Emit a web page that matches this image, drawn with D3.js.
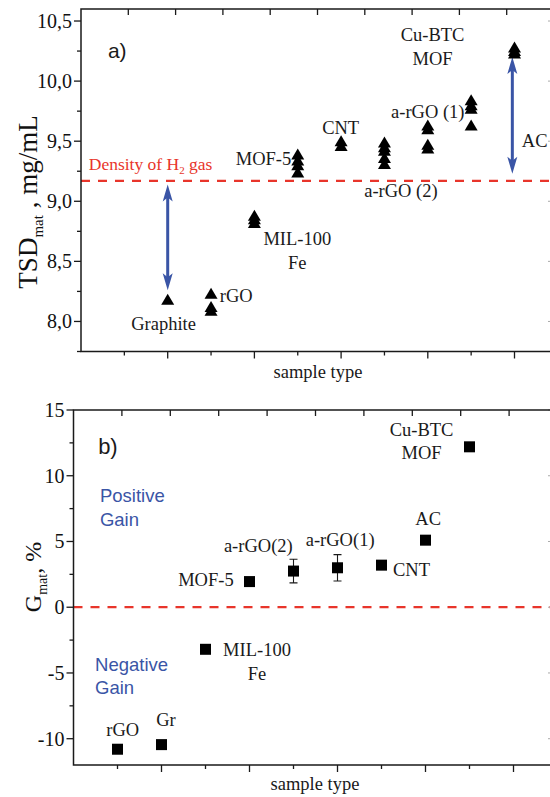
<!DOCTYPE html>
<html>
<head>
<meta charset="utf-8">
<script src="https://cdn.jsdelivr.net/npm/d3@7"></script>
<style>
  body { margin: 0; background: #fff; }
  svg { display: block; }
  text { font-family: "Liberation Serif", "Times New Roman", serif; fill: #111; }
  .sans { font-family: "Liberation Sans", Arial, sans-serif; }
</style>
</head>
<body>
<svg id="chart" width="550" height="797"></svg>
<script>
// ---- panel a) data : TSD_mat per sample, several measurements each
var tsdCategories = ["Graphite", "rGO", "MIL-100 Fe", "MOF-5", "CNT", "a-rGO (2)", "a-rGO (1)", "Cu-BTC MOF", "AC"];
var tsdSlots = [2, 3, 4, 5, 6, 7, 8, 9, 10];
var tsdValues = [
  [8.18],
  [8.23, 8.12, 8.09],
  [8.88, 8.85, 8.82],
  [9.39, 9.34, 9.30, 9.24],
  [9.50, 9.46],
  [9.49, 9.45, 9.42, 9.36, 9.31],
  [9.63, 9.60, 9.47, 9.44],
  [9.84, 9.80, 9.77, 9.63],
  [10.28, 10.25, 10.23]
];
var h2Density = 9.17;
var tsdTicks = [8.0, 8.5, 9.0, 9.5, 10.0, 10.5];
// the two blue gap arrows (slot, upper end, lower end)
var arrowSlots = [2, 9.95];
var arrowTop = [9.14, 10.2];
var arrowBottom = [8.26, 9.23];

// ---- panel b) data : gain G_mat in %
var gainCategories = ["rGO", "Gr", "MIL-100 Fe", "MOF-5", "a-rGO(2)", "a-rGO(1)", "CNT", "AC", "Cu-BTC MOF"];
var gainSlots = [1, 2, 3, 4, 5, 6, 7, 8, 9];
var gainValues = [-10.8, -10.45, -3.2, 1.95, 2.75, 3.0, 3.2, 5.1, 12.2];
var gainErrors = [0, 0, 0, 0, 0.9, 1.0, 0, 0, 0];
var gainTicks = [-10, -5, 0, 5, 10, 15];

var svg = d3.select("#chart");
var frameRight = 551;
var red = "#e8352b", blue = "#3a55a6", ink = "#1a1a1a";

// draws frame, ticks, labels of one panel
function drawFrame(g, x, xTop, y, majors, fmt) {
  var x0 = x.range()[0], yb = y.range()[0], yt = y.range()[1];
  // left axis with minor ticks
  var minors = d3.range(majors.length - 1).map(function(i) { return (majors[i] + majors[i + 1]) / 2; });
  minors.push(majors[0] - (majors[1] - majors[0]) / 2);
  minors.push(majors[majors.length - 1] + (majors[1] - majors[0]) / 2);
  minors = minors.filter(function(v) { return v >= y.domain()[0] && v <= y.domain()[1]; });
  g.selectAll(".ymaj").data(majors).enter().append("line")
    .attr("x1", x0 - 7).attr("x2", x0)
    .attr("y1", function(d) { return y(d); }).attr("y2", function(d) { return y(d); })
    .attr("stroke", ink).attr("stroke-width", 1.3);
  g.selectAll(".ymin").data(minors).enter().append("line")
    .attr("x1", x0 - 4).attr("x2", x0)
    .attr("y1", function(d) { return y(d); }).attr("y2", function(d) { return y(d); })
    .attr("stroke", ink).attr("stroke-width", 1.3);
  g.selectAll(".ylab").data(majors).enter().append("text")
    .attr("x", x0 - 9).attr("y", function(d) { return y(d); })
    .attr("dy", "0.35em").attr("text-anchor", "end")
    .style("font-size", "20px")
    .text(fmt);
  // faint right ticks (frame is cut off at the edge)
  g.selectAll(".rt").data(majors).enter().append("line")
    .attr("x1", 548).attr("x2", 551)
    .attr("y1", function(d) { return y(d); }).attr("y2", function(d) { return y(d); })
    .attr("stroke", "#aaa").attr("stroke-width", 1);
  // bottom ticks: major at even slots, minor at odd
  var slots = d3.range(1, 11);
  g.selectAll(".xt").data(slots).enter().append("line")
    .attr("x1", function(d) { return x(d); }).attr("x2", function(d) { return x(d); })
    .attr("y1", yb).attr("y2", function(d) { return yb + (d % 2 === 0 ? 7 : 4); })
    .attr("stroke", ink).attr("stroke-width", 1.3);
  // top ticks (inward, own spacing)
  g.selectAll(".tt").data(d3.range(1, 10)).enter().append("line")
    .attr("x1", function(d) { return xTop(d); }).attr("x2", function(d) { return xTop(d); })
    .attr("y1", yt).attr("y2", yt + 6)
    .attr("stroke", ink).attr("stroke-width", 1.3);
  // frame lines
  g.append("path")
    .attr("d", "M" + frameRight + "," + yt + "H" + x0 + "V" + yb + "H" + frameRight)
    .attr("fill", "none").attr("stroke", ink).attr("stroke-width", 1.5);
}

function arrowHead(g, cx, tipY, dir) {
  // dir = -1 points up, +1 points down
  var len = 17, half = 5;
  g.append("path")
    .attr("d", "M" + cx + "," + tipY + "L" + (cx - half) + "," + (tipY - dir * len) +
      "L" + cx + "," + (tipY - dir * (len - 4)) + "L" + (cx + half) + "," + (tipY - dir * len) + "Z")
    .attr("fill", blue);
}

function label(g, x, y, t, anchor, cls, size, color) {
  return g.append("text").attr("x", x).attr("y", y)
    .attr("text-anchor", anchor || "middle")
    .attr("class", cls || null)
    .style("font-size", (size || 18.5) + "px")
    .style("fill", color || ink)
    .text(t);
}

// ================= panel a =================
var ga = svg.append("g");
var xA = d3.scaleLinear().domain([0, 10]).range([81, 514.5]);
var xTopA = d3.scaleLinear().domain([0, 10]).range([81, 554]);
var yA = d3.scaleLinear().domain([7.75, 10.6]).range([351.5, 9]);

var commaFmt = function(d) { return d3.format(".1f")(d).replace(".", ","); };

// dashed H2 density line
ga.append("line")
  .attr("x1", xA.range()[0]).attr("x2", frameRight)
  .attr("y1", yA(h2Density)).attr("y2", yA(h2Density))
  .attr("stroke", red).attr("stroke-width", 2.2).attr("stroke-dasharray", "9,8");

drawFrame(ga, xA, xTopA, yA, tsdTicks, commaFmt);

// arrows
arrowSlots.forEach(function(s, i) {
  var cx = xA(s), t = yA(arrowTop[i]), b = yA(arrowBottom[i]);
  ga.append("line").attr("x1", cx).attr("x2", cx).attr("y1", t + 12).attr("y2", b - 12)
    .attr("stroke", blue).attr("stroke-width", 3);
  arrowHead(ga, cx, t, -1);
  arrowHead(ga, cx, b, 1);
});

// triangles
var tri = "M0,-6L6.5,5L-6.5,5Z";
tsdValues.forEach(function(vals, i) {
  ga.selectAll(null).data(vals).enter().append("path")
    .attr("d", tri)
    .attr("transform", function(d) { return "translate(" + xA(tsdSlots[i]) + "," + yA(d) + ")"; })
    .attr("fill", "#000");
});

// annotations (slot, value, text, anchor)
label(ga, xA(1.905), yA(7.925), "Graphite");
label(ga, xA(3.2), yA(8.16), "rGO", "start");
label(ga, xA(4.99), yA(8.633), "MIL-100");
label(ga, xA(4.99), yA(8.44), "Fe");
label(ga, xA(4.85), yA(9.30), "MOF-5", "end");
label(ga, xA(5.99), yA(9.56), "CNT");
label(ga, xA(7.38), yA(9.035), "a-rGO (2)");
label(ga, xA(8.0), yA(9.69), "a-rGO (1)");
label(ga, xA(8.11), yA(10.33), "Cu-BTC");
label(ga, xA(8.11), yA(10.13), "MOF");
label(ga, xA(10.17), yA(9.45), "AC", "start");
label(ga, xA(0.62), yA(10.19), "a)", "start", "sans", 21);

var dens = label(ga, xA(0.18), yA(9.26), "Density of H", "start", null, 17.5, red);
dens.append("tspan").attr("dy", 4).style("font-size", "11px").text("2");
dens.append("tspan").attr("dy", -4).text(" gas");

// axis titles
var ta = ga.append("text").attr("transform", "translate(37,202) rotate(-90)")
  .attr("text-anchor", "middle").style("font-size", "27px");
ta.append("tspan").text("TSD");
ta.append("tspan").attr("dy", 6).style("font-size", "15px").text("mat");
ta.append("tspan").attr("dy", -6).text(" , mg/mL");
label(ga, 318, 378, "sample type", "middle", null, 18.5);

// ================= panel b =================
var gb = svg.append("g");
var xB = d3.scaleLinear().domain([0, 10]).range([73.5, 513.5]);
var xTopB = d3.scaleLinear().domain([0, 10]).range([73.5, 557.5]);
var yB = d3.scaleLinear().domain([-12, 15]).range([765, 410]);

gb.append("line")
  .attr("x1", xB.range()[0]).attr("x2", frameRight)
  .attr("y1", yB(0)).attr("y2", yB(0))
  .attr("stroke", red).attr("stroke-width", 2.2).attr("stroke-dasharray", "9,8");

drawFrame(gb, xB, xTopB, yB, gainTicks, function(d) { return d; });

// error bars
gainValues.forEach(function(v, i) {
  if (!gainErrors[i]) return;
  var cx = xB(gainSlots[i]), t = yB(v + gainErrors[i]), b = yB(v - gainErrors[i]);
  gb.append("path")
    .attr("d", "M" + (cx - 4) + "," + t + "H" + (cx + 4) + "M" + cx + "," + t + "V" + b +
      "M" + (cx - 4) + "," + b + "H" + (cx + 4))
    .attr("fill", "none").attr("stroke", ink).attr("stroke-width", 1.1);
});

// squares
gb.selectAll(".sq").data(gainValues).enter().append("rect")
  .attr("x", function(d, i) { return xB(gainSlots[i]) - 5.5; })
  .attr("y", function(d) { return yB(d) - 5.5; })
  .attr("width", 11).attr("height", 11)
  .attr("fill", "#000");

label(gb, xB(1.12), yB(-9.76), "rGO");
label(gb, xB(2.1), yB(-9.04), "Gr");
label(gb, xB(4.17), yB(-3.68), "MIL-100");
label(gb, xB(4.17), yB(-5.5), "Fe");
label(gb, xB(3.64), yB(1.64), "MOF-5", "end");
label(gb, xB(4.2), yB(4.18), "a-rGO(2)");
label(gb, xB(6.06), yB(4.68), "a-rGO(1)");
label(gb, xB(7.26), yB(2.4), "CNT", "start");
label(gb, xB(8.06), yB(6.25), "AC");
label(gb, xB(7.91), yB(13.04), "Cu-BTC");
label(gb, xB(7.91), yB(11.27), "MOF");
label(gb, xB(0.56), yB(11.65), "b)", "start", "sans", 22);
label(gb, xB(0.6), yB(7.98), "Positive", "start", "sans", 18.5, blue);
label(gb, xB(0.6), yB(6.2), "Gain", "start", "sans", 18.5, blue);
label(gb, xB(0.49), yB(-4.82), "Negative", "start", "sans", 18.5, blue);
label(gb, xB(0.49), yB(-6.59), "Gain", "start", "sans", 18.5, blue);

var tb = gb.append("text").attr("transform", "translate(41,577) rotate(-90)")
  .attr("text-anchor", "middle").style("font-size", "24px");
tb.append("tspan").text("G");
tb.append("tspan").attr("dy", 6).style("font-size", "14px").text("mat");
tb.append("tspan").attr("dy", -6).text(", %");
label(gb, 315, 790, "sample type", "middle", null, 18.5);
</script>
</body>
</html>
